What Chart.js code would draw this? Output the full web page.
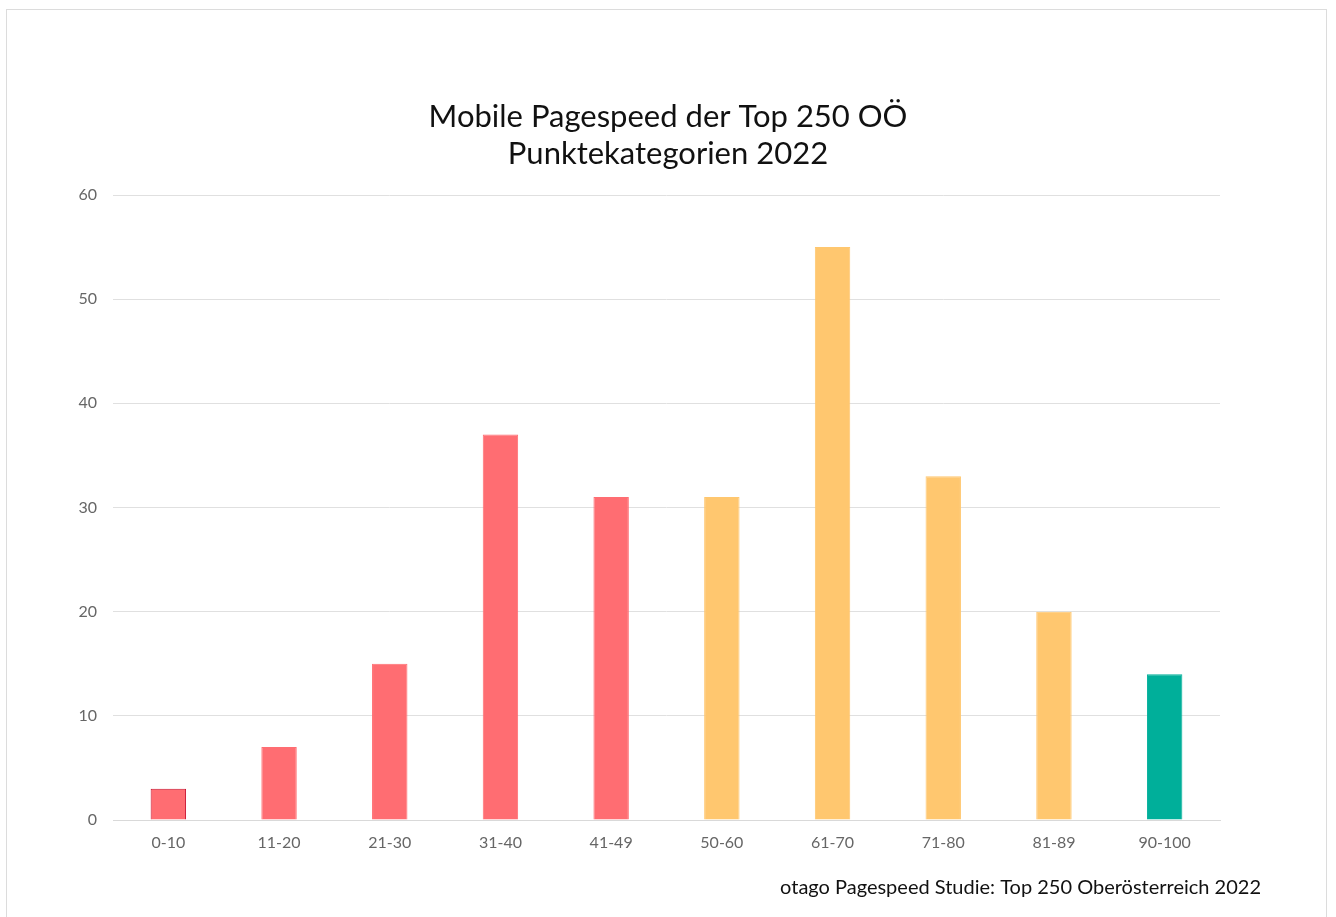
<!DOCTYPE html>
<html>
<head>
<meta charset="utf-8">
<script src="https://cdn.jsdelivr.net/npm/chart.js@4.4.0/dist/chart.umd.min.js"></script>
<style>
  html, body { margin: 0; padding: 0; background: #fff; }
  #frame {
    position: absolute; left: 6px; top: 9px; width: 1321px; height: 920px;
    border: 1px solid #dcdcdc; box-sizing: border-box;
  }
  #wrap { position: absolute; left: 0; top: 0; width: 1336px; height: 917px; }
</style>
</head>
<body>
<div id="frame"></div>
<div id="wrap"><canvas id="chart"></canvas></div>
<script>
// categories and values
const categories = ['0-10', '11-20', '21-30', '31-40', '41-49', '50-60', '61-70', '71-80', '81-89', '90-100'];
const counts = [3, 7, 15, 37, 31, 31, 55, 33, 20, 14];
const barColors = ['#ff6d72', '#ff6d72', '#ff6d72', '#ff6d72', '#ff6d72', '#ffc76f', '#ffc76f', '#ffc76f', '#ffc76f', '#00af9a'];
const barBorders = ['#c8102e', '#ff6d72', '#ff6d72', '#ff6d72', '#ff6d72', '#ffc76f', '#ffc76f', '#ffc76f', '#ffc76f', '#00af9a'];
const titleLines = ['Mobile Pagespeed der Top 250 OÖ', 'Punktekategorien 2022'];
const sourceText = 'otago Pagespeed Studie: Top 250 Oberösterreich 2022';

const FONT = 'Lato, "Open Sans", sans-serif';

// title + source line drawn on the canvas at fixed spots
const textPlugin = {
  id: 'texts',
  afterDraw(chart) {
    const ctx = chart.ctx;
    ctx.save();
    ctx.fillStyle = '#111';
    ctx.textBaseline = 'middle';
    ctx.textAlign = 'center';
    ctx.font = '31px ' + FONT;
    ctx.fillText(titleLines[0], 668, 117);
    ctx.fillText(titleLines[1], 668, 154);
    ctx.textAlign = 'right';
    ctx.font = '20px ' + FONT;
    ctx.fillText(sourceText, 1261, 888);
    ctx.restore();
  },
};

new Chart(document.getElementById('chart'), {
  type: 'bar',
  data: {
    labels: categories,
    datasets: [{
      data: counts,
      backgroundColor: barColors,
      borderColor: barBorders,
      borderWidth: 1,
      barPercentage: 0.64,
      categoryPercentage: 0.5,
    }],
  },
  options: {
    responsive: true,
    maintainAspectRatio: false,
    animation: false,
    layout: { padding: { top: 195, right: 116, bottom: 0, left: 0 } },
    plugins: {
      legend: { display: false },
      tooltip: { enabled: false },
    },
    scales: {
      x: {
        grid: { display: false, drawTicks: false },
        border: { color: '#d9d9d9' },
        ticks: { color: '#666', font: { family: FONT, size: 16 }, padding: 13 },
        afterFit: (scale) => { scale.height = 97; },
      },
      y: {
        min: 0,
        max: 60,
        grid: { color: '#e0e0e0', drawTicks: false },
        border: { display: false },
        ticks: { stepSize: 10, color: '#666', font: { family: FONT, size: 16 }, padding: 16 },
        afterFit: (scale) => { scale.width = 113; },
      },
    },
  },
  plugins: [textPlugin],
});
</script>
</body>
</html>
